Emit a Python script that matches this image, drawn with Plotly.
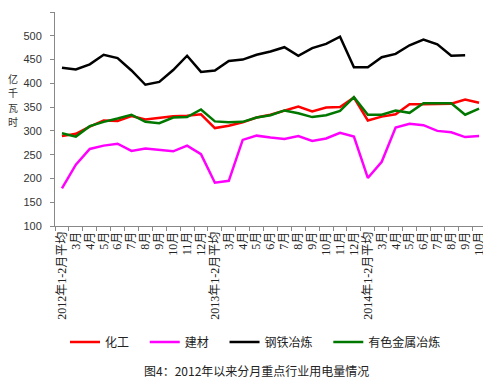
import plotly.graph_objects as go

months12 = ["3月", "4月", "5月", "6月", "7月", "8月", "9月", "10月", "11月", "12月"]
categories = (["2012年1-2月平均"] + months12 +
              ["2013年1-2月平均"] + months12 +
              ["2014年1-2月平均"] + months12[:8])

chem = [289, 294, 309, 322, 321, 331, 324, 328, 331, 332, 335,
        306, 311, 318, 328, 334, 342, 351, 341, 349, 350, 370,
        322, 330, 335, 356, 356, 357, 357, 366, 359]
build = [179, 229, 262, 269, 273, 258, 263, 260, 257, 269, 251,
         191, 195, 281, 290, 286, 283, 289, 279, 284, 296, 288,
         201, 235, 307, 315, 312, 300, 297, 287, 289]
steel = [433, 429, 440, 460, 453, 427, 397, 403, 428, 458, 424,
         427, 447, 450, 460, 467, 476, 458, 474, 483, 498, 434,
         434, 455, 462, 480, 492, 482, 458, 459, None]
nonferrous = [295, 288, 310, 319, 326, 334, 319, 316, 328, 329, 345,
              320, 318, 319, 328, 333, 343, 337, 329, 333, 342, 371,
              334, 334, 343, 338, 358, 358, 358, 334, 347]

series = [("化工", chem, "#ff0000"),
          ("建材", build, "#ff00ff"),
          ("钢铁冶炼", steel, "#000000"),
          ("有色金属冶炼", nonferrous, "#007800")]

ylabel_chars = ["亿", "千", "瓦", "时"]
pad = "\u00a0\u00a0\u00a0\u00a0"

xs = list(range(len(categories)))
fig = go.Figure()
for name, vals, col in series:
    fig.add_trace(go.Scatter(x=xs, y=vals, name=name + pad, mode="lines",
                             line=dict(color=col, width=2.5)))

# page body has an 8px default margin, so the figure is drawn 8px in
W, H = 483, 383
L, T, B, R = 47, 4, 165, 5
plot_w = W - L - R
plot_h = H - T - B
bottom = T + plot_h


def py(fig_y):
    return (bottom - fig_y) / plot_h


def px(fig_x):
    return (fig_x - L) / plot_w


annotations = []
for i, ch in enumerate(ylabel_chars):
    annotations.append(dict(text=ch, xref="paper", yref="paper",
                            x=px(5), y=py(70 + i * 14.5),
                            xanchor="center", yanchor="middle", showarrow=False,
                            font=dict(family="Noto Sans CJK SC", size=10, color="#333")))
annotations.append(dict(text="图4：2012年以来分月重点行业用电量情况", xref="paper", yref="paper",
                        x=px(248), y=py(362), xanchor="center", yanchor="middle",
                        showarrow=False,
                        font=dict(family="Noto Sans CJK SC", size=12, color="#222")))

fig.update_layout(
    width=W, height=H,
    margin=dict(l=L, r=R, t=T, b=B, autoexpand=False),
    paper_bgcolor="white", plot_bgcolor="white",
    showlegend=True,
    legend=dict(orientation="h", x=px(57), xanchor="left", y=py(319.5), yanchor="top",
                font=dict(family="Noto Sans CJK SC", size=12, color="#222"),
                traceorder="normal"),
    xaxis=dict(range=[-0.5, len(categories) - 0.5], tickmode="array",
               tickvals=xs, ticktext=categories, tickangle=-90,
               ticks="", showline=True, linecolor="#888", linewidth=1,
               showgrid=False, zeroline=False, automargin=False,
               tickfont=dict(family="Liberation Serif, Noto Sans CJK SC", size=12, color="#222"),
               minor=dict(tickvals=[i - 0.5 for i in range(len(categories) + 1)],
                          ticks="outside", ticklen=4, tickcolor="#888")),
    yaxis=dict(range=[100, 550], dtick=50, showline=True, linecolor="#888",
               linewidth=1, ticks="outside", ticklen=4, tickcolor="#888",
               showgrid=False, zeroline=False, automargin=False,
               ticklabelstandoff=6,
               tickfont=dict(family="Liberation Sans, Arial", size=11, color="#333")),
    annotations=annotations,
)

fig.write_html("out.html")
